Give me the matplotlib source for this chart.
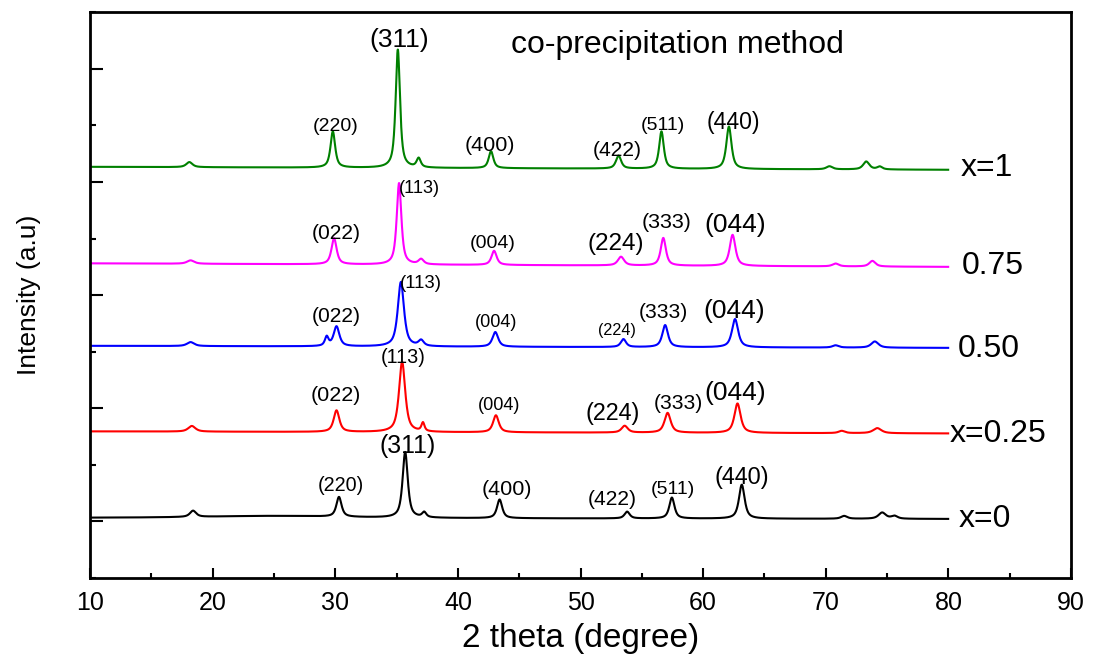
import numpy as np
import matplotlib.pyplot as plt
from matplotlib.ticker import MultipleLocator

plt.rcParams['font.family'] = ['Liberation Sans', 'DejaVu Sans']

# peak lists: position (2theta), height (counts), FWHM (deg)
x1_pos  = [18.1, 29.8, 35.1, 36.8, 42.7, 53.1, 56.6, 62.1, 70.3, 73.3, 74.4]
x1_int  = [45, 320, 1045, 80, 150, 115, 330, 375, 27, 70, 25]
x1_fwhm = [0.6, 0.45, 0.42, 0.4, 0.45, 0.5, 0.45, 0.5, 0.6, 0.6, 0.5]
x1_base = [3134, 3108]

x075_pos  = [18.2, 29.9, 35.2, 37.0, 42.95, 53.3, 56.75, 62.4, 70.8, 73.8]
x075_int  = [30, 230, 720, 45, 125, 77, 245, 275, 25, 50]
x075_fwhm = [0.7, 0.5, 0.45, 0.5, 0.5, 0.6, 0.5, 0.55, 0.6, 0.6]
x075_base = [2281, 2250]

x050_pos  = [18.2, 29.3, 30.1, 35.35, 37.0, 43.05, 53.5, 56.9, 62.6, 70.8, 74.0]
x050_int  = [35, 80, 175, 570, 50, 130, 70, 195, 250, 20, 55]
x050_fwhm = [0.7, 0.35, 0.55, 0.6, 0.5, 0.55, 0.5, 0.55, 0.6, 0.6, 0.7]
x050_base = [1552, 1534]

x025_pos  = [18.3, 30.1, 35.45, 37.15, 43.1, 53.6, 57.1, 62.8, 71.3, 74.2]
x025_int  = [50, 190, 620, 75, 150, 60, 175, 260, 20, 45]
x025_fwhm = [0.7, 0.55, 0.6, 0.3, 0.55, 0.6, 0.6, 0.6, 0.6, 0.8]
x025_base = [796, 778]

x0_pos  = [18.4, 25.0, 30.3, 35.7, 37.25, 43.4, 53.8, 57.45, 63.15, 71.5, 74.6, 75.6]
x0_int  = [55, 20, 175, 580, 45, 165, 60, 185, 300, 25, 55, 25]
x0_fwhm = [0.6, 14, 0.5, 0.5, 0.4, 0.5, 0.5, 0.5, 0.55, 0.6, 0.7, 0.6]
x0_base = [31, 22]

sample_names = ['x=1', '0.75', '0.50', 'x=0.25', 'x=0']
colors = ['#008000', '#ff00ff', '#0000ff', '#ff0000', '#000000']

hkl_cubic = ['(220)', '(311)', '(400)', '(422)', '(511)', '(440)']
hkl_tetra = ['(022)', '(113)', '(004)', '(224)', '(333)', '(044)']

# label placement (x, y, fontsize) -- layout only
x1_lab   = [(30.06, 3493, 12.5), (35.2, 4253, 17), (42.62, 3325, 13.8),
            (52.98, 3280, 13.5), (56.73, 3501, 12.5), (62.44, 3528, 14.8)]
x075_lab = [(30.06, 2547, 13.5), (36.83, 2944, 11.7), (42.86, 2458, 12.5),
            (52.9, 2449, 15.6), (57.05, 2644, 13.8), (62.6, 2617, 17)]
x050_lab = [(30.06, 1813, 13.5), (36.99, 2104, 12), (43.1, 1760, 11.7),
            (52.98, 1689, 10.4), (56.73, 1848, 13.5), (62.52, 1857, 17)]
x025_lab = [(30.06, 1114, 13.8), (35.52, 1450, 12.7), (43.35, 1026, 11.7),
            (52.65, 955, 15), (57.95, 1043, 13.5), (62.6, 1132, 17)]
x0_lab   = [(30.47, 318, 12.7), (35.93, 663, 16), (44.0, 283, 13.8),
            (52.57, 195, 13.5), (57.54, 283, 12.5), (63.17, 389, 15)]
name_pos = [(81.03, 3121), (81.1, 2255), (80.8, 1521), (80.1, 769), (80.8, 18)]
LABEL_SCALE = 1.12


def pattern(tt, pos, inten, fwhm, base, eta=0.75):
    y = np.linspace(base[0], base[1], tt.size)
    for p, h, w in zip(pos, inten, fwhm):
        u = (tt - p) / (w / 2)
        y = y + h * (eta / (1 + u ** 2) + (1 - eta) * np.exp(-np.log(2) * u ** 2))
    return y


tt = np.arange(10, 80, 0.02)
series = [
    (x1_pos, x1_int, x1_fwhm, x1_base, x1_lab, hkl_cubic),
    (x075_pos, x075_int, x075_fwhm, x075_base, x075_lab, hkl_tetra),
    (x050_pos, x050_int, x050_fwhm, x050_base, x050_lab, hkl_tetra),
    (x025_pos, x025_int, x025_fwhm, x025_base, x025_lab, hkl_tetra),
    (x0_pos, x0_int, x0_fwhm, x0_base, x0_lab, hkl_cubic),
]

fig = plt.figure(figsize=(10.94, 6.57), dpi=100)
ax = fig.add_axes([0.0823, 0.1202, 0.8967, 0.8611])

for (pos, inten, fwhm, base, lab, hkl), col, name, npos in zip(series, colors, sample_names, name_pos):
    ax.plot(tt, pattern(tt, pos, inten, fwhm, base), color=col, lw=1.5)
    for (lx, ly, fs), txt in zip(lab, hkl):
        ax.text(lx, ly, txt, fontsize=fs * LABEL_SCALE, ha='center', va='center')
    ax.text(npos[0], npos[1], name, fontsize=23, ha='left', va='center')

ax.text(57.87, 4209, 'co-precipitation method', fontsize=23, ha='center', va='center')

ax.set_xlim(10, 90)
ax.set_ylim(-500, 4500)
ax.xaxis.set_major_locator(MultipleLocator(10))
ax.xaxis.set_minor_locator(MultipleLocator(5))
ax.yaxis.set_major_locator(MultipleLocator(1000))
ax.yaxis.set_minor_locator(MultipleLocator(500))
ax.tick_params(axis='x', which='major', direction='in', length=7, width=1.5,
               labelsize=18, pad=9, top=False)
ax.tick_params(axis='x', which='minor', direction='in', length=3.5, width=1.5, top=False)
ax.tick_params(axis='y', which='major', direction='in', length=9.5, width=1.5,
               labelleft=False, right=False)
ax.tick_params(axis='y', which='minor', direction='in', length=4.5, width=1.5, right=False)
for sp in ax.spines.values():
    sp.set_linewidth(2)

ax.set_xlabel('2 theta (degree)', fontsize=24, labelpad=6)
ax.set_ylabel('Intensity (a.u)', fontsize=19)
ax.yaxis.set_label_coords(-0.05, 0.5)

fig.savefig('out.png', dpi=100)
